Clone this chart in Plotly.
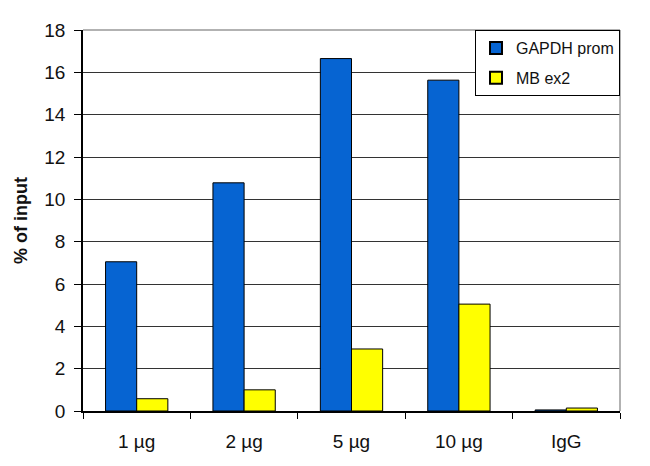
import plotly.graph_objects as go

categories = ["1 µg", "2 µg", "5 µg", "10 µg", "IgG"]
gapdh_prom = [7.05, 10.78, 16.65, 15.63, 0.05]
mb_ex2 = [0.58, 1.0, 2.93, 5.05, 0.14]
y_ticks = [0, 2, 4, 6, 8, 10, 12, 14, 16, 18]

font_family = "Arial, Liberation Sans, sans-serif"

fig = go.Figure()
fig.add_trace(go.Bar(
    name="GAPDH prom", x=categories, y=gapdh_prom, legendgroup="a",
    marker=dict(color="#0664D2", line=dict(color="#000000", width=1)),
))
fig.add_trace(go.Bar(
    name="MB ex2", x=categories, y=mb_ex2, legendgroup="b",
    marker=dict(color="#FFFF00", line=dict(color="#000000", width=1)),
))

fig.update_layout(
    width=650, height=466,
    margin=dict(l=71, r=38, t=17, b=63),
    paper_bgcolor="white", plot_bgcolor="white",
    barmode="group", bargap=0.42, bargroupgap=0,
    font=dict(family=font_family, size=16, color="#111111"),
    showlegend=True,
    legend=dict(
        x=1, xanchor="right", y=1, yanchor="top",
        bgcolor="white", bordercolor="#000000", borderwidth=1,
        font=dict(size=16), itemsizing="constant", itemwidth=30,
        traceorder="grouped", tracegroupgap=6,
    ),
    xaxis=dict(
        type="category", showline=True, linecolor="#000000", linewidth=1.5,
        ticks="outside", tickson="boundaries", ticklen=6, tickcolor="#000000",
        tickfont=dict(size=19), showgrid=False, ticklabelstandoff=12,
    ),
    yaxis=dict(
        range=[0, 18], tickvals=y_ticks, showline=True, linecolor="#000000",
        linewidth=1.5, ticks="outside", ticklen=7, tickcolor="#000000",
        tickfont=dict(size=19), showgrid=True, gridcolor="#333333", gridwidth=1,
        zeroline=False, ticklabelstandoff=5,
        title=dict(text="<b>% of input</b>", font=dict(size=18), standoff=12),
    ),
    shapes=[
        dict(type="line", xref="paper", yref="paper", x0=1, x1=1, y0=0, y1=1,
             line=dict(color="#999999", width=1.5)),
        dict(type="line", xref="paper", yref="paper", x0=0, x1=1, y0=1, y1=1,
             line=dict(color="#999999", width=1.5)),
    ],
)

fig.write_html("out.html")
